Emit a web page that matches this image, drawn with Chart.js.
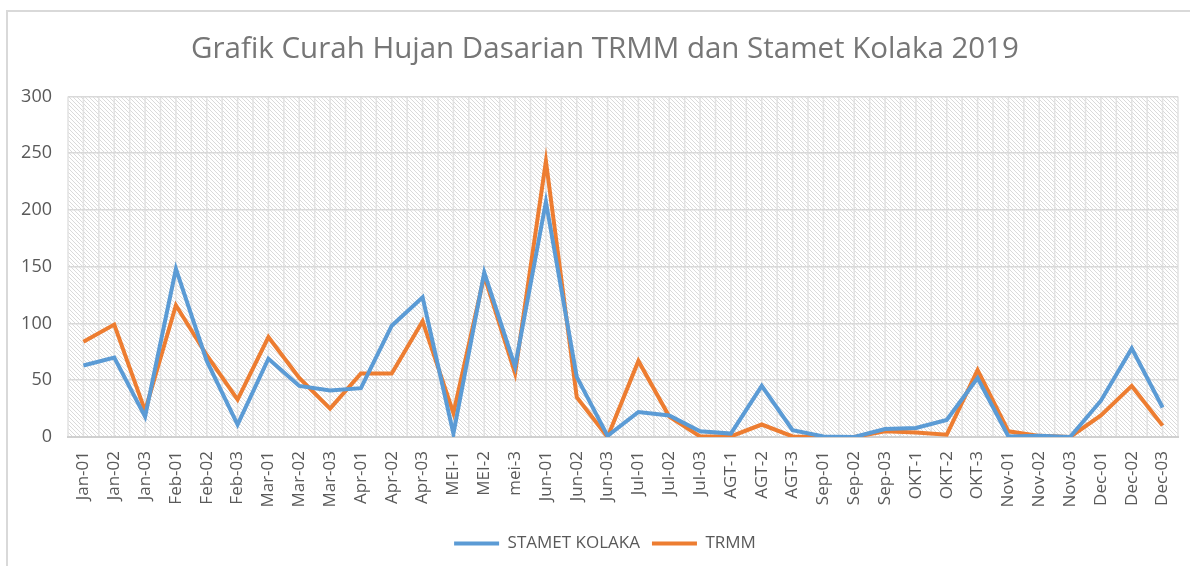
<!DOCTYPE html>
<html>
<head>
<meta charset="utf-8">
<script src="https://cdn.jsdelivr.net/npm/chart.js@4/dist/chart.umd.min.js"></script>
<style>
  html, body { margin: 0; padding: 0; background: #fff; }
  #wrap { position: relative; width: 1190px; height: 566px; }
  #frame { position: absolute; left: 6px; top: 10px; right: -10px; bottom: -10px; border-left: 2px solid #d9d9d9; border-top: 2px solid #d9d9d9; }
  canvas { position: absolute; left: 0; top: 0; }
</style>
</head>
<body>
<div id="wrap">
  <div id="frame"></div>
  <canvas id="chart" width="1190" height="566"></canvas>
</div>
<script>
var kategori = ['Jan-01', 'Jan-02', 'Jan-03', 'Feb-01', 'Feb-02', 'Feb-03', 'Mar-01', 'Mar-02', 'Mar-03',
    'Apr-01', 'Apr-02', 'Apr-03', 'MEI-1', 'MEI-2', 'mei-3', 'Jun-01', 'Jun-02', 'Jun-03',
    'Jul-01', 'Jul-02', 'Jul-03', 'AGT-1', 'AGT-2', 'AGT-3', 'Sep-01', 'Sep-02', 'Sep-03',
    'OKT-1', 'OKT-2', 'OKT-3', 'Nov-01', 'Nov-02', 'Nov-03', 'Dec-01', 'Dec-02', 'Dec-03'];
var stamet = [63, 70, 18, 148, 67, 11, 69, 45, 41, 43, 98, 123, 3, 145, 62, 207, 53, 1,
    22, 19, 5, 3, 45, 6, 0.5, 0, 7, 8, 15, 52, 0.5, 1, 0, 32, 78, 26];
var trmm = [84, 99, 23, 116, 72, 33, 88, 52, 25, 56, 56, 102, 21, 142, 56, 243, 35, 0,
    67, 18, 0.5, 0.5, 11, 0.5, 0, 0, 5, 4, 2, 59, 5, 1, 0, 19, 45, 10];
var yTicks = [0, 50, 100, 150, 200, 250, 300];

var FONT = '"Open Sans", sans-serif';
var TEKS = '#595959';

// pola garis miring untuk latar area plot
function buatPola(ctx) {
    var c = document.createElement('canvas');
    c.width = 4; c.height = 4;
    var g = c.getContext('2d');
    g.strokeStyle = '#dadada';
    g.lineWidth = 1;
    g.beginPath();
    g.moveTo(-1, -1); g.lineTo(5, 5);
    g.moveTo(-1, 3); g.lineTo(1, 5);
    g.moveTo(3, -1); g.lineTo(5, 1);
    g.stroke();
    return ctx.createPattern(c, 'repeat');
}

var latarPlot = {
    id: 'latarPlot',
    afterLayout: function (chart) {
        // judul & legenda di Excel berpusat sedikit ke kanan
        chart.titleBlock.left += 26;
        chart.legend.left += 26;
    },
    beforeDraw: function (chart) {
        var ctx = chart.ctx, a = chart.chartArea, x = chart.scales.x;
        ctx.save();
        ctx.fillStyle = buatPola(ctx);
        ctx.fillRect(a.left, a.top, a.right - a.left, a.bottom - a.top);
        // garis vertikal: di tengah kategori dan di batasnya
        ctx.strokeStyle = '#e2e2e2';
        ctx.lineWidth = 1.5;
        ctx.beginPath();
        var half = (x.getPixelForValue(1) - x.getPixelForValue(0)) / 2;
        for (var i = 0; i < kategori.length; i++) {
            var px = x.getPixelForValue(i);
            ctx.moveTo(px, a.top); ctx.lineTo(px, a.bottom);
            ctx.moveTo(px - half, a.top); ctx.lineTo(px - half, a.bottom);
        }
        ctx.moveTo(a.right, a.top); ctx.lineTo(a.right, a.bottom);
        ctx.stroke();
        ctx.restore();
    }
};

new Chart(document.getElementById('chart'), {
    type: 'line',
    data: {
        labels: kategori,
        datasets: [
            {label: 'STAMET KOLAKA', data: stamet, borderColor: '#5b9bd5', backgroundColor: '#5b9bd5',
                borderWidth: 4, pointRadius: 0, tension: 0},
            {label: 'TRMM', data: trmm, borderColor: '#ed7d31', backgroundColor: '#ed7d31',
                borderWidth: 4, pointRadius: 0, tension: 0}
        ]
    },
    options: {
        responsive: false,
        animation: false,
        layout: {padding: {left: 6, right: 12, top: 0, bottom: 4}},
        plugins: {
            title: {
                display: true,
                text: 'Grafik Curah Hujan Dasarian TRMM dan Stamet Kolaka 2019',
                color: '#767676',
                font: {family: FONT, size: 29.5, weight: 'normal'},
                padding: {top: 32, bottom: 29}
            },
            legend: {
                position: 'bottom',
                labels: {
                    color: TEKS,
                    font: {family: FONT, size: 17},
                    boxWidth: 45,
                    boxHeight: 4,
                    padding: 12,
                    generateLabels: function (chart) {
                        return chart.data.datasets.map(function (d, i) {
                            return {text: d.label, fillStyle: d.borderColor, strokeStyle: d.borderColor,
                                lineWidth: 0, fontColor: TEKS, datasetIndex: i, hidden: false};
                        });
                    }
                }
            },
            tooltip: {enabled: false}
        },
        scales: {
            x: {
                offset: true,
                grid: {display: false},
                border: {color: '#d0d0d0', width: 2},
                ticks: {color: TEKS, font: {family: FONT, size: 17}, minRotation: 90, maxRotation: 90,
                    autoSkip: false, padding: 6},
                afterFit: function (s) { s.height = 86; }
            },
            y: {
                min: 0, max: 300,
                afterBuildTicks: function (s) { s.ticks = yTicks.map(function (v) { return {value: v}; }); },
                grid: {color: '#d9d9d9', lineWidth: 1.5, drawTicks: false},
                border: {display: false},
                ticks: {color: TEKS, font: {family: FONT, size: 18}, padding: 16},
                afterFit: function (s) { s.width = 62; }
            }
        }
    },
    plugins: [latarPlot]
});
</script>
</body>
</html>
